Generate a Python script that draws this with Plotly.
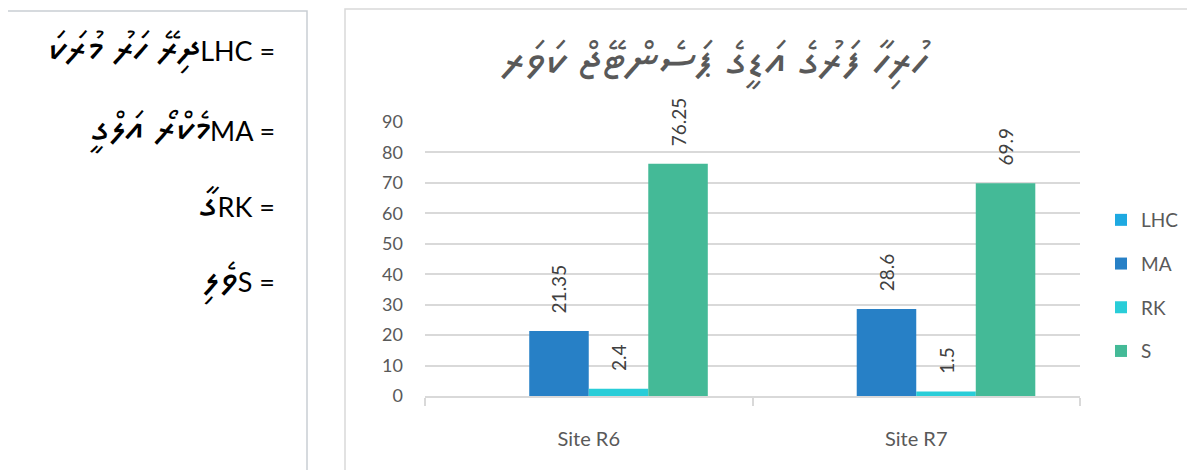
import plotly.graph_objects as go

# ---- data ----
sites = ["Site R6", "Site R7"]
series = ["LHC", "MA", "RK", "S"]
lhc = [0, 0]
ma = [21.35, 28.6]
rk = [2.4, 1.5]
sand = [76.25, 69.9]
y_ticks = [0, 10, 20, 30, 40, 50, 60, 70, 80, 90]

title_text = "ހުރިހާ ފަރުގެ އަޑީގެ ޕަސެންޓޭޖް ކަވަރ"
# key box on the left: code -> Dhivehi name
key_codes = ["LHC", "MA", "RK", "S"]
key_names = ["ދިރޭ ހަރު މުރަކަ", "މެކްރޯ އަލްގީ", "ގާ", "ވެލި"]

colors = {"LHC": "#1EA9E1", "MA": "#2780C6", "RK": "#29CDD8", "S": "#44BA97"}
values = {"LHC": lhc, "MA": ma, "RK": rk, "S": sand}

W, H = 1195, 470
OFF = 8  # page body margin the browser adds around the figure
# plot area in reference pixels
PL, PR, PT, PB = 425, 1080, 122, 396


def px_x(x):
    return (x - PL) / (PR - PL)


def px_y(y):
    return (PB - y) / (PB - PT)


FONT = "Lato, 'Open Sans', sans-serif"
THAANA = "'Noto Sans Thaana', 'MV Boli', FreeSerif, 'DejaVu Sans', sans-serif"
PAD = "\u00a0" * 3  # pushes the rotated value labels off the bar tops

fig = go.Figure()
for name in series:
    vals = values[name]
    fig.add_trace(
        go.Bar(
            x=sites,
            y=vals,
            name=name,
            legendgroup=name,
            marker_color=colors[name],
            marker_line_width=0,
            text=[f"{PAD}{v:g}" if v else "" for v in vals],
            textposition="outside",
            textangle=-90,
            constraintext="none",
            cliponaxis=False,
            textfont=dict(family=FONT, size=19, color="#404040"),
        )
    )

fig.update_yaxes(
    range=[0, 90],
    tickvals=y_ticks,
    showgrid=True,
    gridcolor="#d9d9d9",
    gridwidth=1.5,
    zeroline=False,
    showline=False,
    ticklabelstandoff=21,
    tickfont=dict(family=FONT, size=18, color="#595959"),
)
fig.update_xaxes(
    showline=True,
    linecolor="#d9d9d9",
    linewidth=1.5,
    ticks="outside",
    tickson="boundaries",
    ticklen=8,
    tickcolor="#d9d9d9",
    tickwidth=1.5,
    ticklabelstandoff=24,
    tickfont=dict(family=FONT, size=20, color="#595959"),
)

# boxes: key box on the left, chart frame on the right
fig.add_shape(type="rect", xref="paper", yref="paper",
              x0=px_x(4), x1=px_x(307), y0=px_y(490), y1=px_y(11),
              line=dict(color="#c9ced3", width=1.5), layer="below")
fig.add_shape(type="rect", xref="paper", yref="paper",
              x0=px_x(345), x1=px_x(1215), y0=px_y(490), y1=px_y(9),
              line=dict(color="#d9d9d9", width=1.5), layer="below")

key_rows = [47, 127, 203, 278]
for code, dv, yy in zip(key_codes, key_names, key_rows):
    fig.add_annotation(
        xref="paper", yref="paper", x=px_x(277), y=px_y(yy),
        xanchor="right", yanchor="middle", showarrow=False,
        text=f"<span style='font-family:{THAANA.replace(chr(39), '')};font-size:42px'>{dv}</span>{code} =",
        font=dict(family=FONT, size=27, color="#000000"),
    )

fig.add_annotation(
    xref="paper", yref="paper", x=px_x(716), y=px_y(60),
    xanchor="center", yanchor="middle", showarrow=False,
    text=title_text,
    font=dict(family=THAANA, size=48, color="#595959"),
)

fig.update_layout(
    width=W,
    height=H,
    barmode="group",
    bargap=0.273,
    bargroupgap=0,
    plot_bgcolor="white",
    paper_bgcolor="white",
    margin=dict(l=PL - OFF, r=W - PR + OFF, t=PT - OFF, b=H - PB + OFF, pad=0),
    showlegend=True,
    legend=dict(
        x=px_x(1101), y=px_y(201), xanchor="left", yanchor="top",
        traceorder="grouped", tracegroupgap=16,
        font=dict(family=FONT, size=19, color="#595959"),
        bgcolor="rgba(0,0,0,0)",
    ),
)

fig.write_html("out.html")
